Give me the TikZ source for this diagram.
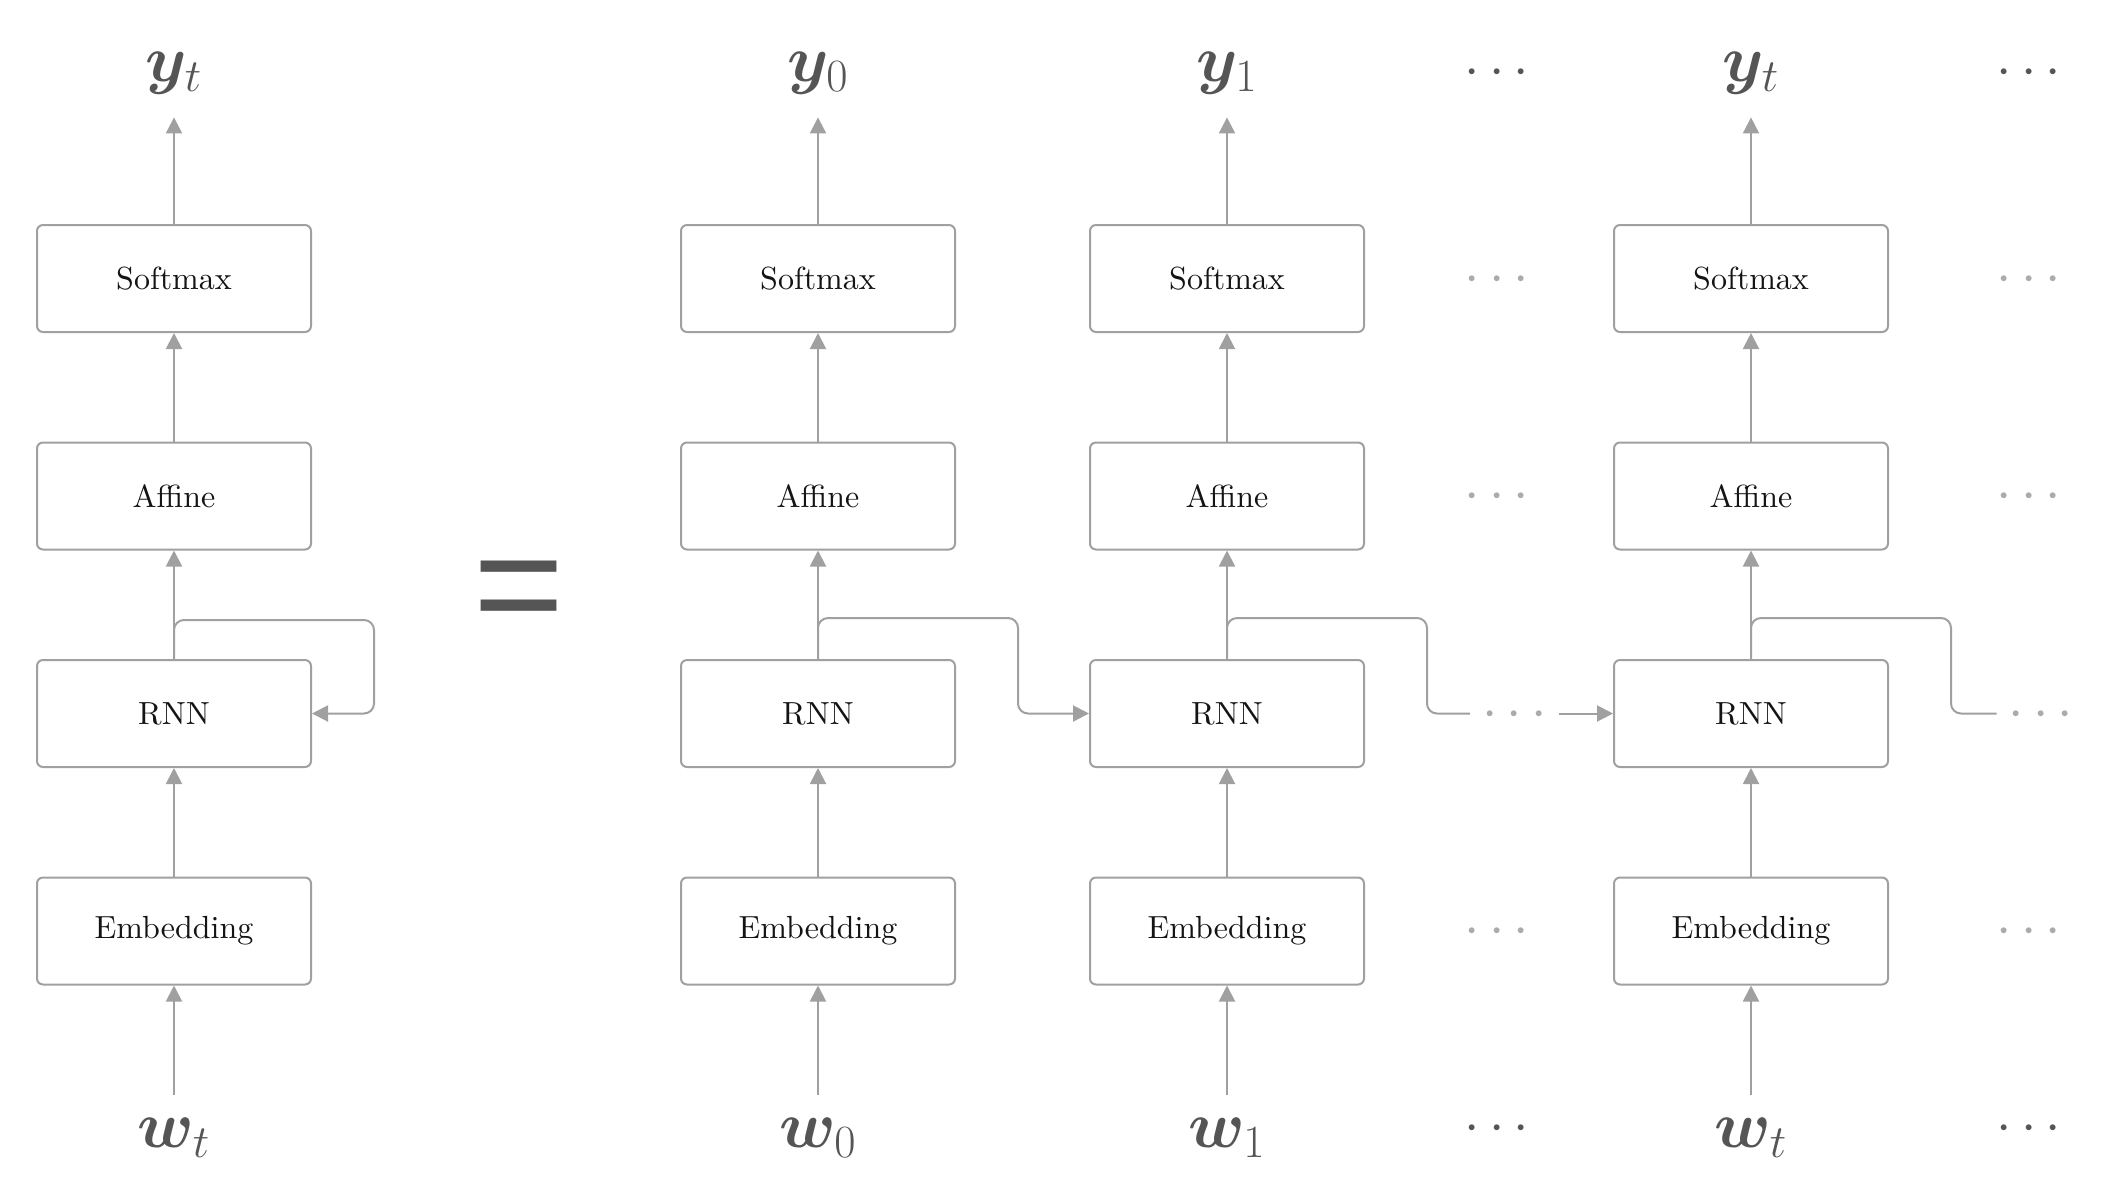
\RequirePackage{fix-cm}
\documentclass[tikz,border=0pt]{standalone}
\usepackage{fontspec}
\usepackage{bm}
\newfontfamily\eqfont{Liberation Sans}
\newfontfamily\boxfont{lmroman10-regular}[Extension=.otf]
\usetikzlibrary{arrows.meta}
\definecolor{linegray}{HTML}{A0A0A0}
\definecolor{labgray}{HTML}{555555}
\definecolor{dotgray}{HTML}{ABABAB}
\tikzset{
  block/.style={draw=linegray, line width=1pt, rounded corners=3pt,
    minimum width=137pt, minimum height=53.5pt, inner sep=0pt,
    text=black!92, font=\boxfont\fontsize{16}{19}\selectfont},
  var/.style={text=labgray, inner sep=0pt, minimum height=44pt,
    text height=15pt, text depth=6.6pt, font=\fontsize{33}{40}\selectfont},
  more/.style={inner sep=6pt, text height=13.75pt, text depth=0pt,
    text=dotgray, font=\fontsize{27.5}{33}\selectfont},
  wire/.style={draw=linegray, line width=1pt},
  flow/.style={wire, -{Triangle[length=8pt,width=8pt]}},
  recur/.style={wire, rounded corners=5pt}
}
\begin{document}
\begin{tikzpicture}[x=0.5pt,y=-0.5pt]
\useasboundingbox (0,0) rectangle (2104,1196);
% folded network
\node[var] (yL) at (174,73) {$\bm{y}_t$};
\node[block] (softL) at (174,278.5) {Softmax};
\node[block] (affL) at (174,496) {Affine};
\node[block] (rnnL) at (174,713.5) {RNN};
\node[block] (embL) at (174,931) {Embedding};
\node[var] (wL) at (174,1139) {$\bm{w}_t$};
\draw[flow] (wL) -- (embL);
\draw[flow] (embL) -- (rnnL);
\draw[flow] (rnnL) -- (affL);
\draw[flow] (affL) -- (softL);
\draw[flow] (softL) -- (yL);
\draw[recur,-{Triangle[length=8pt,width=8pt]}] (rnnL.north) -- ++(0,-39) -| ([xshift=31pt]rnnL.east) -- (rnnL.east);
% equals
\node[text=labgray, font=\eqfont\fontsize{78}{90}\selectfont, inner sep=0pt] (eq) at (519,599) {=};
% unrolled network, step 0
\node[var] (y0) at (818,73) {$\bm{y}_0$};
\node[block] (soft0) at (818,278.5) {Softmax};
\node[block] (aff0) at (818,496) {Affine};
\node[block] (rnn0) at (818,713.5) {RNN};
\node[block] (emb0) at (818,931) {Embedding};
\node[var] (w0) at (818,1139) {$\bm{w}_0$};
% step 1
\node[var] (y1) at (1227,73) {$\bm{y}_1$};
\node[block] (soft1) at (1227,278.5) {Softmax};
\node[block] (aff1) at (1227,496) {Affine};
\node[block] (rnn1) at (1227,713.5) {RNN};
\node[block] (emb1) at (1227,931) {Embedding};
\node[var] (w1) at (1227,1139) {$\bm{w}_1$};
% step t
\node[var] (yT) at (1751,73) {$\bm{y}_t$};
\node[block] (softT) at (1751,278.5) {Softmax};
\node[block] (affT) at (1751,496) {Affine};
\node[block] (rnnT) at (1751,713.5) {RNN};
\node[block] (embT) at (1751,931) {Embedding};
\node[var] (wT) at (1751,1139) {$\bm{w}_t$};
% vertical flow
\draw[flow] (w0) -- (emb0);
\draw[flow] (emb0) -- (rnn0);
\draw[flow] (rnn0) -- (aff0);
\draw[flow] (aff0) -- (soft0);
\draw[flow] (soft0) -- (y0);
\draw[flow] (w1) -- (emb1);
\draw[flow] (emb1) -- (rnn1);
\draw[flow] (rnn1) -- (aff1);
\draw[flow] (aff1) -- (soft1);
\draw[flow] (soft1) -- (y1);
\draw[flow] (wT) -- (embT);
\draw[flow] (embT) -- (rnnT);
\draw[flow] (rnnT) -- (affT);
\draw[flow] (affT) -- (softT);
\draw[flow] (softT) -- (yT);
% ellipses
\node[more, text=labgray] (dy1) at (1497,72) {$\cdots$};
\node[more] (ds1) at (1497,278.5) {$\cdots$};
\node[more] (da1) at (1497,496) {$\cdots$};
\node[more] (dr1) at (1514.5,713.5) {$\cdots$};
\node[more] (de1) at (1497,931) {$\cdots$};
\node[more, text=labgray] (dw1) at (1497,1128) {$\cdots$};
\node[more, text=labgray] (dy2) at (2029,72) {$\cdots$};
\node[more] (ds2) at (2029,278.5) {$\cdots$};
\node[more] (da2) at (2029,496) {$\cdots$};
\node[more] (dr2) at (2041,713.5) {$\cdots$};
\node[more] (de2) at (2029,931) {$\cdots$};
\node[more, text=labgray] (dw2) at (2029,1128) {$\cdots$};
% hidden state
\draw[recur,-{Triangle[length=8pt,width=8pt]}] (rnn0.north) -- ++(0,-41) -| ([xshift=31pt]rnn0.east) -- (rnn1.west);
\draw[recur] (rnn1.north) -- ++(0,-41) -| ([xshift=31pt]rnn1.east) -- (dr1);
\draw[flow] (dr1) -- (rnnT);
\draw[recur] (rnnT.north) -- ++(0,-41) -| ([xshift=31pt]rnnT.east) -- (dr2);
\end{tikzpicture}
\end{document}
